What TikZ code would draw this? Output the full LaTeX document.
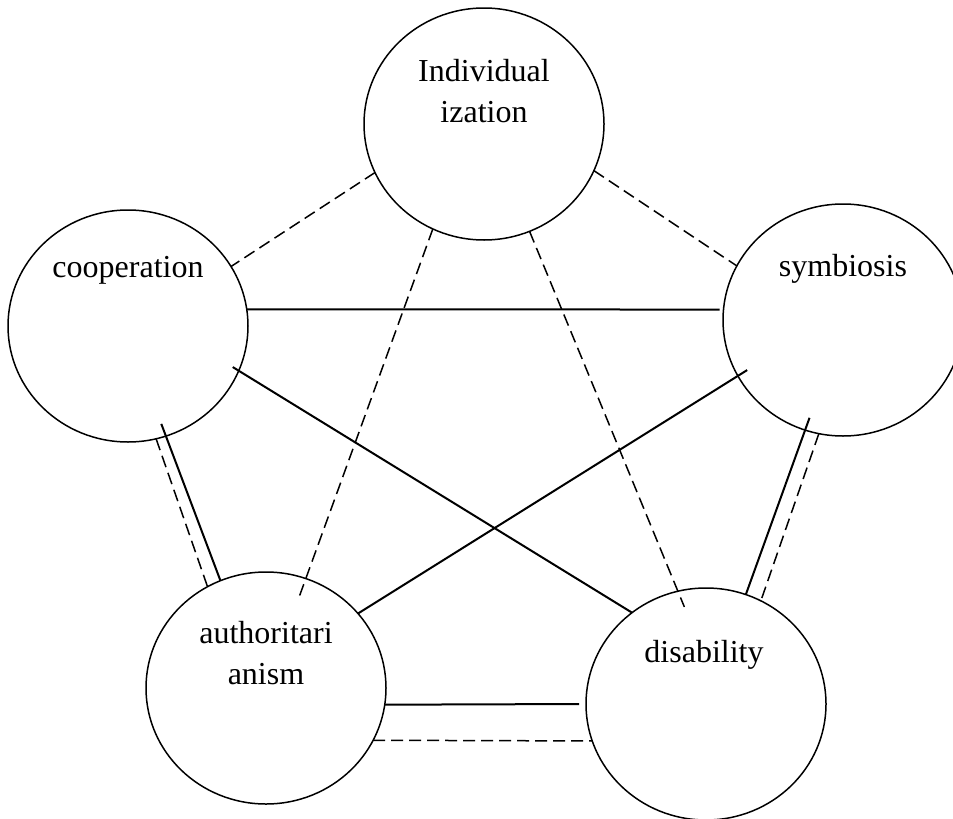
\documentclass[tikz,border=0pt]{standalone}
\usepackage{fontspec}
\setmainfont{Liberation Serif}
\usetikzlibrary{shapes.geometric}
\begin{document}
\begin{tikzpicture}[x=1pt,y=-1pt,
 bubble/.style={ellipse,draw,line width=1.5pt,minimum width=240pt,minimum height=232pt,inner sep=0pt,outer sep=0pt},
 lbl/.style={font=\fontsize{32}{41}\selectfont,align=center,inner sep=0pt},
 solidlink/.style={line width=2pt},
 dashlink/.style={line width=1.5pt,dash pattern=on 12pt off 6pt}]
\useasboundingbox (0,0) rectangle (953,819);
\node[bubble] (I) at (484,124) {};
\node[bubble] (C) at (128,326) {};
\node[bubble] (S) at (843,320) {};
\node[bubble] (A) at (266,688) {};
\node[bubble] (D) at (706,704) {};
\node[lbl] (tI) at (484,91) {Individual\\ization};
\node[lbl,anchor=base] (tC) at (128,277) {cooperation};
\node[lbl,anchor=base] (tS) at (843,276) {symbiosis};
\node[lbl] (tA) at (266,653) {authoritari\\anism};
\node[lbl,anchor=base] (tD) at (704,662) {disability};
% links
\draw[dashlink] (I.204) -- (C.30);
\draw[dashlink] (I.337) -- (S.153);
\draw[solidlink,shorten >=4pt] (C.8) -- (S.175);
\draw[solidlink,shorten <=-7pt] (C.338) -- (D.129);
\draw[solidlink,shorten <=-11pt] (S.208) -- (A.39);
\draw[dashlink,shorten >=-18pt] (I.244) -- (A.70);
\draw[dashlink,shorten >=-17pt] (I.293) -- (D.104);
\draw[solidlink,shorten <=-13pt] (C.289) -- (A.113);
\draw[dashlink] (C.284) -- (A.120);
\draw[solidlink,shorten <=-13pt] (S.251) -- (D.70);
\draw[dashlink] (S.258) -- (D.62);
\draw[solidlink,shorten >=7pt] (A.352) -- (D.180);
\draw[dashlink] (A.334) -- (D.198);
\end{tikzpicture}
\end{document}
